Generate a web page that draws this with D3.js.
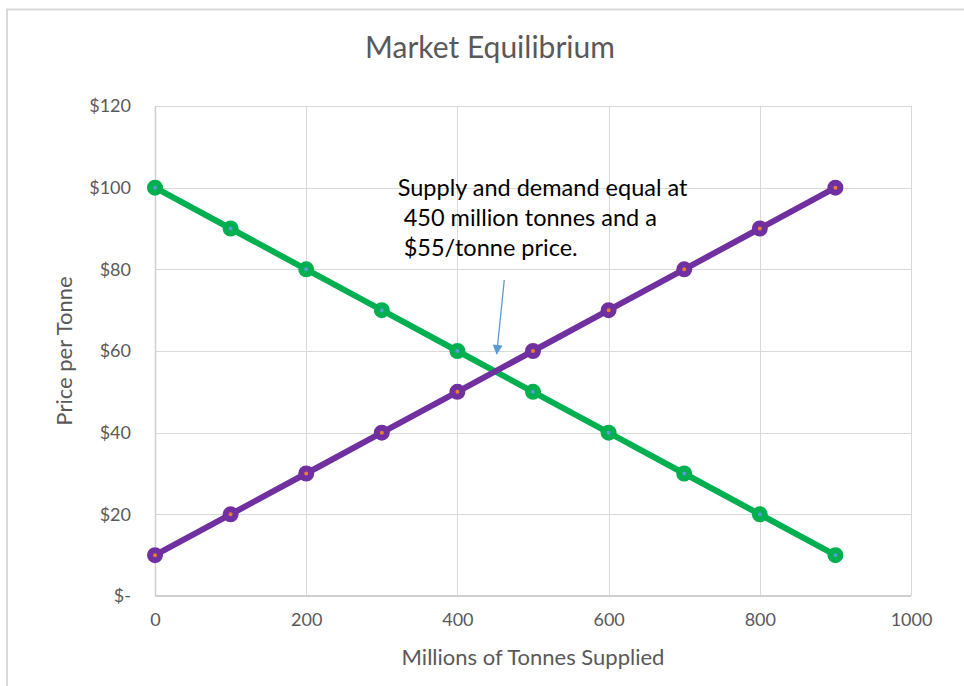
<!DOCTYPE html>
<html>
<head>
<meta charset="utf-8">
<script src="https://cdn.jsdelivr.net/npm/d3@7"></script>
<style>
  html, body { margin: 0; padding: 0; background: #fff; }
  svg { display: block; }
  text { font-family: Lato, "Open Sans", sans-serif; }
</style>
</head>
<body>
<svg id="chart" width="964" height="686"></svg>
<script>
// Quantity supplied (millions of tonnes)
const quantities = [0, 100, 200, 300, 400, 500, 600, 700, 800, 900];
// Demand curve: price per tonne
const demandPrices = [100, 90, 80, 70, 60, 50, 40, 30, 20, 10];
// Supply curve: price per tonne
const supplyPrices = [10, 20, 30, 40, 50, 60, 70, 80, 90, 100];
// Axis ticks
const xTicks = [0, 200, 400, 600, 800, 1000];
const yTicks = [0, 20, 40, 60, 80, 100, 120];
// Annotation text and the equilibrium point it points at
const noteLines = ["Supply and demand equal at", "450 million tonnes and a", "$55/tonne price."];
const equilibrium = { q: 450, p: 55 };

const svg = d3.select("#chart");
const W = 964, H = 686;
const margin = { left: 155, top: 106, right: 53, bottom: 90 };
const innerW = W - margin.left - margin.right;
const innerH = H - margin.top - margin.bottom;

// outer chart frame
svg.append("rect")
  .attr("x", 7).attr("y", 9.5)
  .attr("width", 1000).attr("height", 700)
  .attr("fill", "#fff").attr("stroke", "#d9d9d9").attr("stroke-width", 2);

const x = d3.scaleLinear().domain([0, 1000]).range([0, innerW]);
const y = d3.scaleLinear().domain([0, 120]).range([innerH, 0]);

const g = svg.append("g").attr("transform", `translate(${margin.left},${margin.top})`);

// gridlines
g.append("g").selectAll("line.h").data(yTicks).join("line")
  .attr("x1", 0).attr("x2", innerW)
  .attr("y1", d => Math.round(y(d)) + 0.5).attr("y2", d => Math.round(y(d)) + 0.5)
  .attr("stroke", "#d9d9d9").attr("stroke-width", 1);
g.append("g").selectAll("line.v").data(xTicks).join("line")
  .attr("y1", 0).attr("y2", innerH)
  .attr("x1", d => Math.round(x(d)) + 0.5).attr("x2", d => Math.round(x(d)) + 0.5)
  .attr("stroke", "#d9d9d9").attr("stroke-width", 1);

// axis lines
g.append("line").attr("x1", 0).attr("x2", innerW).attr("y1", innerH).attr("y2", innerH)
  .attr("stroke", "#d0d0d0").attr("stroke-width", 2);
g.append("line").attr("x1", 0.5).attr("x2", 0.5).attr("y1", 0).attr("y2", innerH)
  .attr("stroke", "#d0d0d0").attr("stroke-width", 1.5);

// y tick labels
const fmtPrice = d => d === 0 ? "$-" : "$" + d;
const yAxis = d3.axisLeft(y).tickValues(yTicks).tickFormat(fmtPrice).tickSize(0).tickPadding(24);
const ya = g.append("g").call(yAxis);
ya.select(".domain").remove();
ya.selectAll("text").attr("fill", "#595959").attr("font-size", 18).attr("font-family", "Lato");

// x tick labels
const xAxis = d3.axisBottom(x).tickValues(xTicks).tickFormat(d3.format("d")).tickSize(0).tickPadding(17);
const xa = g.append("g").attr("transform", `translate(0,${innerH})`).call(xAxis);
xa.select(".domain").remove();
xa.selectAll("text").attr("fill", "#595959").attr("font-size", 18).attr("font-family", "Lato");

// series
const series = [
  { prices: demandPrices, color: "#00b050", dot: "#5b9bd5" },
  { prices: supplyPrices, color: "#7030a0", dot: "#ed7d31" }
];
const line = d3.line().x(d => x(d[0])).y(d => y(d[1]));
series.forEach(s => {
  const pts = quantities.map((q, i) => [q, s.prices[i]]);
  g.append("path").datum(pts).attr("d", line)
    .attr("fill", "none").attr("stroke", s.color).attr("stroke-width", 6)
    .attr("stroke-linejoin", "round");
  g.append("g").selectAll("circle").data(pts).join("circle")
    .attr("cx", d => x(d[0])).attr("cy", d => y(d[1])).attr("r", 5)
    .attr("fill", s.dot).attr("stroke", s.color).attr("stroke-width", 6);
});

// annotation arrow toward the crossing point
const defs = svg.append("defs");
defs.append("marker").attr("id", "arrowHead")
  .attr("viewBox", "0 0 10 10").attr("refX", 9).attr("refY", 5)
  .attr("markerWidth", 12).attr("markerHeight", 10).attr("markerUnits", "userSpaceOnUse")
  .attr("orient", "auto")
  .append("path").attr("d", "M0,0L10,5L0,10Z").attr("fill", "#5b9bd5");
g.append("line")
  .attr("x1", x(equilibrium.q + 12)).attr("y1", y(equilibrium.p + 22.4))
  .attr("x2", x(equilibrium.q + 2)).attr("y2", y(equilibrium.p + 4.3))
  .attr("stroke", "#5b9bd5").attr("stroke-width", 1.3)
  .attr("marker-end", "url(#arrowHead)");

// annotation text, 30px line spacing
const note = g.append("g").attr("fill", "#000").attr("font-size", 23.5).attr("font-family", "Lato");
noteLines.forEach((t, i) => {
  note.append("text")
    .attr("x", i === 0 ? x(321) : x(329))
    .attr("y", y(98) + i * 30)
    .text(t);
});

// title, centred on the whole chart frame
svg.append("text").attr("x", 490).attr("y", 58)
  .attr("text-anchor", "middle").attr("font-size", 30).attr("fill", "#595959")
  .text("Market Equilibrium");

// axis titles
svg.append("text").attr("x", margin.left + innerW / 2).attr("y", 665)
  .attr("text-anchor", "middle").attr("font-size", 22).attr("fill", "#595959")
  .text("Millions of Tonnes Supplied");
svg.append("text")
  .attr("transform", `translate(72,${margin.top + innerH / 2}) rotate(-90)`)
  .attr("text-anchor", "middle").attr("font-size", 22).attr("fill", "#595959")
  .text("Price per Tonne");
</script>
</body>
</html>
